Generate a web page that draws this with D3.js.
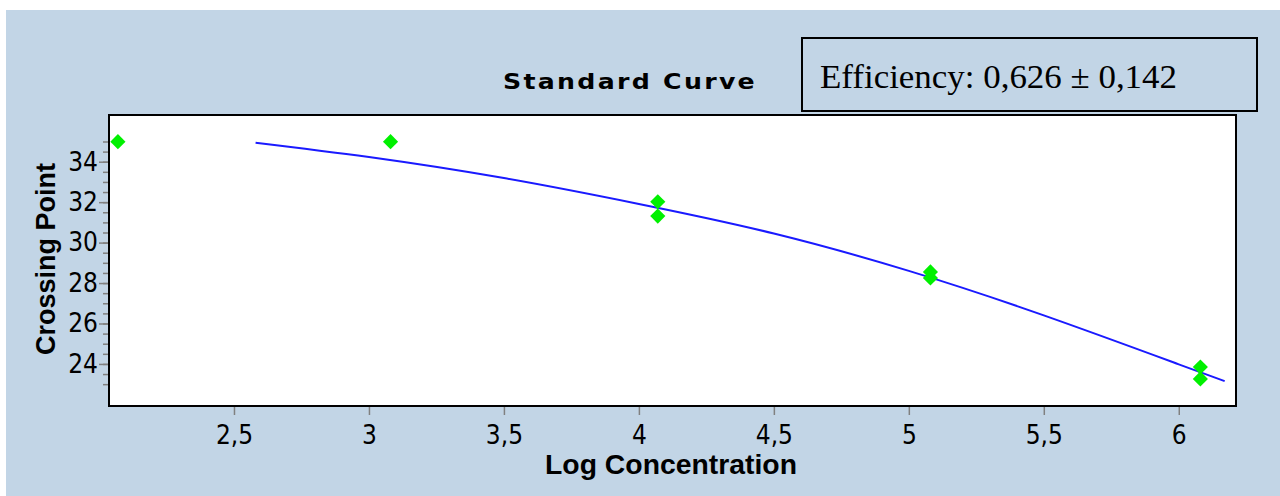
<!DOCTYPE html>
<html>
<head>
<meta charset="utf-8">
<script src="https://cdnjs.cloudflare.com/ajax/libs/d3/7.8.5/d3.min.js"></script>
<style>
  html, body { margin: 0; padding: 0; background: #fff; }
  svg { display: block; }
</style>
</head>
<body>
<script>
// measured points (log concentration vs crossing point)
const pointLog = [2.07, 3.08, 4.07, 4.07, 5.08, 5.08, 6.08, 6.08];
const pointCp  = [34.99, 34.99, 32.02, 31.31, 28.55, 28.25, 23.85, 23.26];

// fitted standard curve
const curveLog = [2.58, 3.0, 3.5, 4.0, 4.5, 5.0, 5.5, 6.0, 6.17];
const curveCp  = [34.94, 34.23, 33.19, 31.91, 30.45, 28.6, 26.4, 23.98, 23.15];

const xTicks = [2.5, 3, 3.5, 4, 4.5, 5, 5.5, 6];
const yMajor = [24, 26, 28, 30, 32, 34];
const yMinor = d3.range(23, 35.01, 0.5);

const titleText = "Standard Curve";
const effText = "Efficiency: 0,626 \u00b1 0,142";
const xLabel = "Log Concentration";
const yLabel = "Crossing Point";

let width = 1280, height = 496;
let plot = {left: 109, top: 115, right: 1236, bottom: 406};
const tickFont = "'Liberation Sans Narrow', 'DejaVu Sans Condensed', Arial, sans-serif";

let svg = d3.select("body").append("svg")
    .attr("width", width)
    .attr("height", height);

// panel background
svg.append("rect")
    .attr("x", 6).attr("y", 10)
    .attr("width", width - 6).attr("height", height - 10)
    .attr("fill", "#c2d5e6");

let x = d3.scaleLinear().domain([2.037, 6.212]).range([plot.left, plot.right]);
let y = d3.scaleLinear().domain([21.92, 36.31]).range([plot.bottom, plot.top]);

const fmt = d => String(d).replace(".", ",");

// plot area
svg.append("rect")
    .attr("x", plot.left).attr("y", plot.top)
    .attr("width", plot.right - plot.left).attr("height", plot.bottom - plot.top)
    .attr("fill", "#fff")
    .attr("stroke", "#000")
    .attr("stroke-width", 2);

// x axis
let xAxis = svg.append("g")
    .attr("transform", "translate(0," + (plot.bottom + 1) + ")")
    .call(d3.axisBottom(x).tickValues(xTicks).tickSize(8).tickPadding(11).tickFormat(fmt));
xAxis.select(".domain").remove();
xAxis.selectAll("line").attr("stroke", "#808080").attr("stroke-width", 1.5);
xAxis.selectAll("text")
    .style("font-family", tickFont)
    .style("font-size", "26px")
    .attr("fill", "#000");

// y axis, minor ticks first
let yMinorAxis = svg.append("g")
    .attr("transform", "translate(" + (plot.left - 1) + ",0)")
    .call(d3.axisLeft(y).tickValues(yMinor).tickSize(5).tickFormat(""));
yMinorAxis.select(".domain").remove();
yMinorAxis.selectAll("line").attr("stroke", "#808080").attr("stroke-width", 1.5);

let yAxis = svg.append("g")
    .attr("transform", "translate(" + (plot.left - 1) + ",0)")
    .call(d3.axisLeft(y).tickValues(yMajor).tickSize(9).tickPadding(1).tickFormat(fmt));
yAxis.select(".domain").remove();
yAxis.selectAll("line").attr("stroke", "#808080").attr("stroke-width", 1.5);
yAxis.selectAll("text")
    .style("font-family", tickFont)
    .style("font-size", "26px")
    .attr("fill", "#000");

// standard curve
let line = d3.line()
    .x((d, i) => x(curveLog[i]))
    .y((d, i) => y(curveCp[i]))
    .curve(d3.curveNatural);

svg.append("path")
    .datum(curveLog)
    .attr("d", line)
    .attr("fill", "none")
    .attr("stroke", "#1a1aff")
    .attr("stroke-width", 2);

// diamonds
let diamond = d3.symbol().type(d3.symbolSquare).size(115);
svg.selectAll(".pt")
    .data(pointLog)
    .enter()
    .append("path")
    .attr("class", "pt")
    .attr("d", diamond)
    .attr("transform", (d, i) => "translate(" + x(d) + "," + y(pointCp[i]) + ") rotate(45)")
    .attr("fill", "#00f000");

// title
svg.append("text")
    .attr("x", 503).attr("y", 89)
    .attr("textLength", 254)
    .attr("lengthAdjust", "spacingAndGlyphs")
    .attr("letter-spacing", "2px")
    .attr("font-family", "'DejaVu Sans', Arial, sans-serif")
    .attr("font-weight", "bold")
    .attr("font-size", "22px")
    .text(titleText);

// efficiency box
svg.append("rect")
    .attr("x", 802).attr("y", 38)
    .attr("width", 455).attr("height", 73)
    .attr("fill", "#c2d5e6")
    .attr("stroke", "#000")
    .attr("stroke-width", 2);

svg.append("text")
    .attr("x", 820).attr("y", 88)
    .attr("textLength", 357)
    .attr("lengthAdjust", "spacingAndGlyphs")
    .attr("font-family", "'Liberation Serif', 'Times New Roman', serif")
    .attr("font-size", "34px")
    .text(effText);

// axis titles
svg.append("text")
    .attr("x", 671).attr("y", 474)
    .attr("text-anchor", "middle")
    .attr("textLength", 252)
    .attr("lengthAdjust", "spacingAndGlyphs")
    .attr("font-family", "'Liberation Sans', Arial, sans-serif")
    .attr("font-weight", "bold")
    .attr("font-size", "27px")
    .text(xLabel);

svg.append("text")
    .attr("transform", "translate(55,259) rotate(-90)")
    .attr("text-anchor", "middle")
    .attr("textLength", 192)
    .attr("lengthAdjust", "spacingAndGlyphs")
    .attr("font-family", "'Liberation Sans', Arial, sans-serif")
    .attr("font-weight", "bold")
    .attr("font-size", "27px")
    .text(yLabel);
</script>
</body>
</html>
